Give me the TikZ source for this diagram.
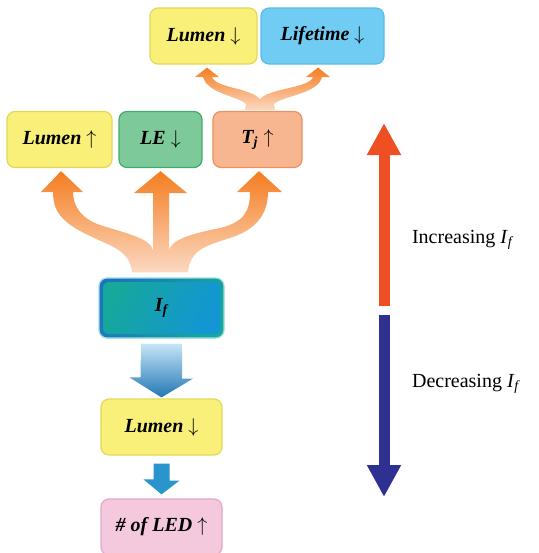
\documentclass[tikz,border=0pt]{standalone}
\usepackage{fontspec}
\setmainfont{Liberation Serif}
\usetikzlibrary{calc,arrows.meta}

\definecolor{lumyel}{HTML}{F9F07A}
\definecolor{lumyeld}{HTML}{E3D855}
\definecolor{lifeblu}{HTML}{70CCF2}
\definecolor{lifeblud}{HTML}{5BBCE8}
\definecolor{legrn}{HTML}{7DC99A}
\definecolor{legrnd}{HTML}{3DAE6A}
\definecolor{tjpch}{HTML}{F8B690}
\definecolor{tjpchd}{HTML}{E9915F}
\definecolor{ledpnk}{HTML}{F4C8DD}
\definecolor{ledpnkd}{HTML}{E3A6C6}
\definecolor{ifteal}{HTML}{16A89A}
\definecolor{ifblu}{HTML}{0BAEE8}
\definecolor{ifmid}{HTML}{1395D6}
\definecolor{ifdark}{HTML}{1B75BC}
\definecolor{ifedge}{HTML}{9ADCE4}
\definecolor{treeor}{HTML}{F47D20}
\definecolor{treepch}{HTML}{FCD9C2}
\definecolor{dnlight}{HTML}{C7E5F7}
\definecolor{dndark}{HTML}{2277B4}
\definecolor{dnsmall}{HTML}{2A95CC}
\definecolor{incred}{HTML}{EF5023}
\definecolor{decnavy}{HTML}{2E3192}

\tikzset{
  box/.style={draw, rounded corners=4pt, line width=0.6pt, inner sep=0pt,
    font=\bfseries\itshape, minimum height=28pt},
  tree/.style={top color=treeor, bottom color=treepch},
  sidearrow/.style={line width=5.5pt, -{Triangle[width=16pt,length=16pt]}},
}

\begin{document}
\begin{tikzpicture}[x=0.5pt,y=-0.5pt]
\useasboundingbox (0,0) rectangle (538,553);
% boxes
\node [box, fill=lumyel, draw=lumyeld, minimum width=53.5pt] (lumT) at (203.5,36) {Lumen $\downarrow$};
\node [box, fill=lifeblu, draw=lifeblud, minimum width=61.5pt] (life) at (322.5,36) {Lifetime $\downarrow$};
\node [box, fill=lumyel, draw=lumyeld, minimum width=52.5pt] (lumA) at (59.5,139.5) {Lumen $\uparrow$};
\node [box, fill=legrn, draw=legrnd, minimum width=41.5pt] (le) at (160.5,139.5) {LE $\downarrow$};
\node [box, fill=tjpch, draw=tjpchd, minimum width=44.5pt] (tj) at (257.5,139.5) {T\textsubscript{j} $\uparrow$};
\node [box, left color=ifdark, middle color=ifblu, right color=ifteal, shading angle=60,
  draw=ifedge, minimum width=62.5pt, minimum height=30pt,
  path picture={\shade [left color=ifteal, middle color=ifblu, right color=ifmid, shading angle=65,
    rounded corners=3pt] ($(path picture bounding box.south west)+(4,-4)$)
    rectangle ($(path picture bounding box.north east)+(-4,4)$);}] (ifb) at (161.5,308) {I\textsubscript{f}};
\node [box, fill=lumyel, draw=lumyeld, minimum width=60.5pt] (lumB) at (161.5,427) {Lumen $\downarrow$};
\node [box, fill=ledpnk, draw=ledpnkd, minimum width=60.5pt] (led) at (161.5,527) {\# of LED $\uparrow$};
%
% branching arrows from I_f
\shade [tree] ($(ifb.north)+(-29.5,-5)$)
  .. controls (130,250) and (110,246) .. (90,236)
  .. controls (60,222) and (53,210) .. (53,192)
  -- (41,192) -- ($(lumA.south)+(1.5,3)$) -- (83,192) -- (73,192)
  .. controls (73,205) and (80,218) .. (100,225)
  .. controls (125,233) and (150,238) .. (153,250)
  -- (153,193) -- (134,193) -- ($(le.south)+(0,3)$) -- (187,193) -- (169,193) -- (169,250)
  .. controls (172,238) and (200,232) .. (220,228)
  .. controls (245,222) and (250,210) .. (250,192)
  -- (237,192) -- ($(tj.south)+(1.5,3)$) -- (282,192) -- (268,192)
  .. controls (268,215) and (255,230) .. (230,238)
  .. controls (205,246) and (190,250) .. ($(ifb.north)+(26.5,-5)$) -- cycle;
% branching arrows from T_j
\shade [tree] ($(tj.north)+(-12.5,-1)$) -- (246,104)
  .. controls (238,96) and (208,94) .. (203,77)
  -- (195,77) -- ($(lumT.south)+(3.5,3)$) -- (219,77) -- (212,77)
  .. controls (216,88) and (250,88) .. (260,99)
  .. controls (270,88) and (310,88) .. (313,77)
  -- (306,77) -- ($(life.south)+(-4.5,3)$) -- (330,77) -- (322,77)
  .. controls (318,94) and (282,96) .. (274,104) -- ($(tj.north)+(17.5,-1)$) -- cycle;
%
% downward arrows
\shade [top color=dnlight, bottom color=dndark] ($(ifb.south)+(-20.5,5)$) -- ++(41,0) -- ++(0,35)
  -- ++(11,0) -- ($(lumB.north)+(0,-1)$) -- ++(-32,-20) -- ++(11,0) -- cycle;
\fill [dnsmall] ($(lumB.south)+(-8,8)$) -- ++(16,0) -- ++(0,17) -- ++(10,0)
  -- ($(led.north)+(0,-4)$) -- ++(-18,-15) -- ++(10,0) -- cycle;
%
% side arrows
\coordinate (incB) at (384,306);
\coordinate (incT) at (384,123);
\coordinate (decT) at (384,315);
\coordinate (decB) at (384,497);
\draw [sidearrow, incred] (incB) -- (incT);
\draw [sidearrow, decnavy] (decT) -- (decB);
\node [anchor=west] (incL) at (405,240) {Increasing \textit{I}\textsubscript{\textit{f}}};
\node [anchor=west] (decL) at (405,384) {Decreasing \textit{I}\textsubscript{\textit{f}}};
\end{tikzpicture}
\end{document}
